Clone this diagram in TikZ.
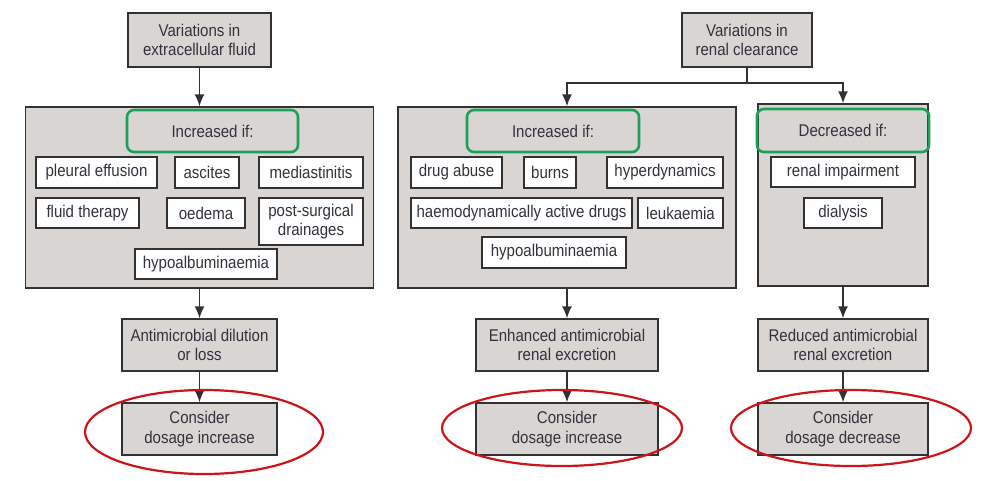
\documentclass[tikz,border=0pt]{standalone}
\usepackage{fontspec}
\setmainfont{Liberation Sans}[FakeStretch=0.885]
\usetikzlibrary{arrows.meta,shapes.geometric}
\definecolor{boxgray}{RGB}{216,213,210}
\definecolor{edgec}{RGB}{50,50,50}
\definecolor{txtc}{RGB}{50,50,60}
\definecolor{grn}{RGB}{30,160,90}
\definecolor{rd}{RGB}{205,20,25}
\begin{document}
\begin{tikzpicture}[x=1pt,y=-1pt,
  every node/.style={font=\fontsize{17}{19.5}\selectfont, text=txtc, inner sep=0pt, align=center},
  graybox/.style={draw=edgec, fill=boxgray, line width=1.4pt},
  whitebox/.style={draw=edgec, fill=white, line width=1.4pt, minimum height=30},
  greenbox/.style={draw=grn, rounded corners=7pt, line width=2.6pt, minimum height=42},
  conn/.style={draw=edgec, line width=1.4pt, -{Latex[length=12pt,width=10pt]}},
  plain/.style={draw=edgec, line width=1.4pt},
  ring/.style={draw=rd, line width=2.2pt, ellipse, inner sep=0pt}]
\useasboundingbox (0,0) rectangle (985,480);

% ---------- left column ----------
\node[graybox, minimum width=143, minimum height=54] (v1) at (199.5,40) {Variations in\\extracellular fluid};
\node[graybox, minimum width=348, minimum height=181] (big1) at (199.5,197.5) {};
\node[greenbox, minimum width=171] (g1) at (212.5,131) {Increased if:};
\node[whitebox, minimum width=121, minimum height=31] (pe) at (96.5,172.5) {pleural effusion};
\node[whitebox, minimum width=64, minimum height=31] (asc) at (207,172.5) {ascites};
\node[whitebox, minimum width=104, minimum height=31] (med) at (311,172.5) {mediastinitis};
\node[whitebox, minimum width=103] (ft) at (87.5,213) {fluid therapy};
\node[whitebox, minimum width=78] (oed) at (206,213) {oedema};
\node[whitebox, minimum width=104, minimum height=47] (ps) at (311,221.5) {post-surgical\\drainages};
\node[whitebox, minimum width=142] (hyp1) at (206,264) {hypoalbuminaemia};
\node[graybox, minimum width=155, minimum height=52] (ad) at (199.5,345) {Antimicrobial dilution\\or loss};
\node[graybox, minimum width=155, minimum height=52] (ci1) at (199.5,429) {Consider\\dosage increase};

% ---------- middle column ----------
\node[graybox, minimum width=130, minimum height=54] (v2) at (747,40) {Variations in\\renal clearance};
\node[graybox, minimum width=338, minimum height=181] (big2) at (567,197.5) {};
\node[greenbox, minimum width=172] (g2) at (553,131) {Increased if:};
\node[whitebox, minimum width=91, minimum height=31] (da) at (456.5,172.5) {drug abuse};
\node[whitebox, minimum width=52, minimum height=31] (bu) at (550,172.5) {burns};
\node[whitebox, minimum width=116, minimum height=31] (hd) at (665,172.5) {hyperdynamics};
\node[whitebox, minimum width=221] (ha) at (521.5,213) {haemodynamically active drugs};
\node[whitebox, minimum width=85] (le) at (680.5,213) {leukaemia};
\node[whitebox, minimum width=144, minimum height=31] (hyp2) at (554,252.5) {hypoalbuminaemia};
\node[graybox, minimum width=182, minimum height=52] (en) at (567,345) {Enhanced antimicrobial\\renal excretion};
\node[graybox, minimum width=182, minimum height=52] (ci2) at (567,429) {Consider\\dosage increase};

% ---------- right column ----------
\node[graybox, minimum width=170, minimum height=182] (big3) at (843,195) {};
\node[greenbox, minimum width=172, minimum height=43] (g3) at (843,130.5) {Decreased if:};
\node[whitebox, minimum width=144] (ri) at (843,172) {renal impairment};
\node[whitebox, minimum width=78] (di) at (843,213) {dialysis};
\node[graybox, minimum width=170, minimum height=52] (re) at (843,345) {Reduced antimicrobial\\renal excretion};
\node[graybox, minimum width=170, minimum height=52] (cd) at (843,429) {Consider\\dosage decrease};

% ---------- connectors ----------
\draw[conn] (v1.south) -- (big1.north);
\draw[conn] (big1.south) -- (ad.north);
\draw[conn] (ad.south) -- (ci1.north);

\coordinate (j) at (747,83);
\draw[plain] (v2.south) -- (j);
\draw[conn] (j) -| (big2.north);
\draw[conn] (j) -| (big3.north);
\draw[conn] (big2.south) -- (en.north);
\draw[conn] (en.south) -- (ci2.north);
\draw[conn] (big3.south) -- (re.north);
\draw[conn] (re.south) -- (cd.north);

% ---------- red highlight rings ----------
\node[ring, minimum width=238, minimum height=84] (e1) at (204,432) {};
\node[ring, minimum width=240, minimum height=76] (e2) at (562,428) {};
\node[ring, minimum width=240, minimum height=76] (e3) at (851,428) {};
\end{tikzpicture}
\end{document}
